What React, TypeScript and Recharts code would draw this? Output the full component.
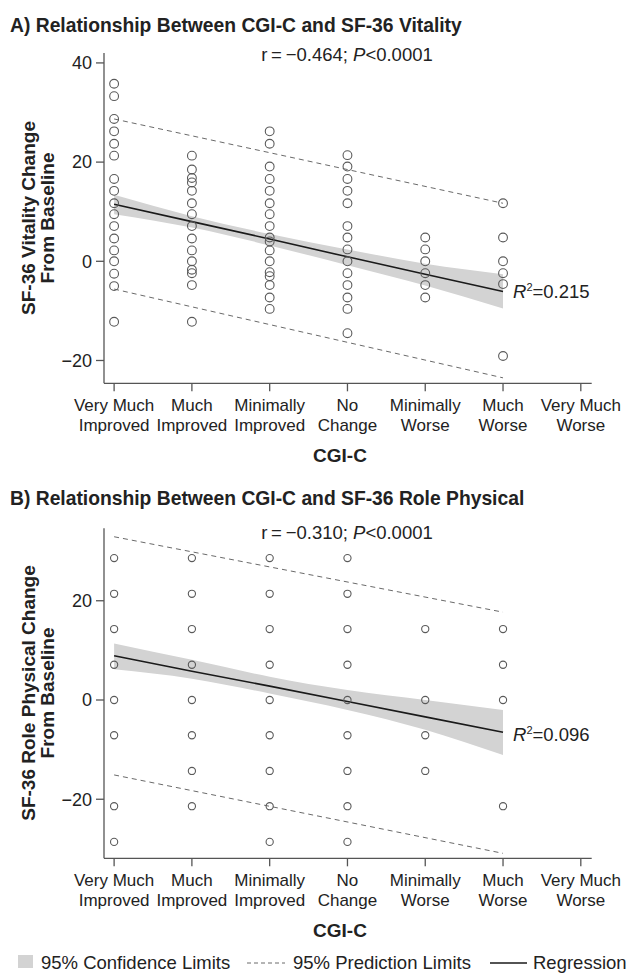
import React from 'react';
import { ComposedChart, Scatter, Line, Area, XAxis, YAxis } from 'recharts';

// ---------- data ----------
const categoryLine1 = ['Very Much', 'Much', 'Minimally', 'No', 'Minimally', 'Much', 'Very Much'];
const categoryLine2 = ['Improved', 'Improved', 'Improved', 'Change', 'Worse', 'Worse', 'Worse'];
const categoryTicks = [1, 2, 3, 4, 5, 6, 7];
const fitX = [1, 2, 3, 4, 5, 6];

// Panel A: SF-36 Vitality change by CGI-C category
const vitalityVeryMuchImproved = [35.8, 33.3, 28.7, 26.2, 23.7, 21.3, 16.6, 14.2, 11.7, 9.5, 7.1, 4.6, 2.2, 0, -2.5, -5.0, -12.2];
const vitalityMuchImproved = [21.3, 18.5, 16.8, 15.9, 14.2, 11.7, 9.5, 7.1, 4.6, 2.2, 0, -1.7, -2.4, -4.8, -12.2];
const vitalityMinimallyImproved = [26.2, 23.7, 19.1, 16.6, 14.2, 11.7, 9.5, 7.1, 4.8, 4.0, 2.2, 0, -2.2, -3.0, -4.8, -7.3, -9.6];
const vitalityNoChange = [21.4, 19.1, 16.6, 14.2, 11.7, 7.1, 4.8, 2.4, 0, -2.4, -4.8, -7.3, -9.6, -14.5];
const vitalityMinimallyWorse = [4.8, 2.4, 0, -2.4, -4.8, -7.3];
const vitalityMuchWorse = [11.7, 4.8, 0, -2.4, -4.6, -19.1];
const vitalityFit = [11.5, 8.0, 4.5, 0.9, -2.6, -6.1];
const vitalityCILow = [9.5, 6.8, 3.2, -0.8, -4.9, -9.5];
const vitalityCIHigh = [13.4, 9.1, 5.5, 2.4, -0.5, -2.6];
const vitalityPredX = [1, 6];
const vitalityPredUpper = [28.7, 11.7];
const vitalityPredLower = [-5.6, -23.5];

// Panel B: SF-36 Role Physical change by CGI-C category
const roleVeryMuchImproved = [28.6, 21.4, 14.3, 7.1, 0, -7.1, -21.4, -28.6];
const roleMuchImproved = [28.6, 21.4, 14.3, 7.1, 0, -7.1, -14.3, -21.4];
const roleMinimallyImproved = [28.6, 21.4, 14.3, 7.1, 0, -7.1, -14.3, -21.4, -28.6];
const roleNoChange = [28.6, 21.4, 14.3, 7.1, 0, -7.1, -14.3, -21.4, -28.6];
const roleMinimallyWorse = [14.3, 0, -7.1, -14.3];
const roleMuchWorse = [14.3, 7.1, 0, -21.4];
const roleFit = [8.9, 5.8, 2.8, -0.3, -3.4, -6.5];
const roleCILow = [6.2, 4.3, 1.3, -2.0, -6.0, -11.1];
const roleCIHigh = [11.4, 8.1, 4.7, 2.0, 0.0, -2.0];
const rolePredX = [1, 6];
const rolePredUpper = [32.9, 17.7];
const rolePredLower = [-15.1, -30.9];

// ---------- helpers ----------
const toPoints = (cols: number[][]) =>
  cols.flatMap((vals, i) => vals.map((v) => ({ x: i + 1, y: v })));
const toBand = (fit: number[], lo: number[], hi: number[]) =>
  fitX.map((x, i) => ({ x, fit: fit[i], ci: [lo[i], hi[i]] }));
const toPred = (xs: number[], up: number[], lo: number[]) =>
  xs.map((x, i) => ({ x, up: up[i], lo: lo[i] }));

const FONT = '"Liberation Sans", Arial, Helvetica, sans-serif';
const TEXT = '#222';
const AXIS = '#555';

const XTick = (props: any) => {
  const { x, y, payload } = props;
  const i = payload.value - 1;
  return (
    <text textAnchor="middle" fontSize={17} fill={TEXT} fontFamily={FONT}>
      <tspan x={x} y={y + 17.7}>{categoryLine1[i]}</tspan>
      <tspan x={x} y={y + 37.7}>{categoryLine2[i]}</tspan>
    </text>
  );
};

type PanelProps = {
  top: number;
  height: number;
  plotTop: number;
  plotBottom: number;
  domain: [number, number];
  yTicks: number[];
  points: { x: number; y: number }[];
  band: any[];
  pred: any[];
  r: number;
};

const Panel = ({ top, height, plotTop, plotBottom, domain, yTicks, points, band, pred, r }: PanelProps) => (
  <div style={{ position: 'absolute', left: 0, top, width: 627, height }}>
    <ComposedChart
      width={627}
      height={height}
      margin={{ top: plotTop, right: 35.3, left: 0, bottom: height - plotBottom - 60 }}
    >
      <XAxis
        type="number"
        dataKey="x"
        domain={[0.87, 7.14]}
        ticks={categoryTicks}
        allowDataOverflow
        height={60}
        tickSize={8}
        tickMargin={2}
        axisLine={{ stroke: AXIS, strokeWidth: 1.3 }}
        tickLine={{ stroke: AXIS, strokeWidth: 1.3 }}
        tick={<XTick />}
        interval={0}
      />
      <YAxis
        type="number"
        dataKey="y"
        domain={domain}
        ticks={yTicks}
        allowDataOverflow
        width={104}
        tickSize={8}
        tickMargin={4}
        axisLine={{ stroke: AXIS, strokeWidth: 1.3 }}
        tickLine={{ stroke: AXIS, strokeWidth: 1.3 }}
        tick={{ fontSize: 18, fill: TEXT, fontFamily: FONT }}
        tickFormatter={(v: number) => (v < 0 ? '\u2212' + Math.abs(v) : String(v))}
      />
      <Area
        data={band}
        dataKey="ci"
        type="monotone"
        stroke="none"
        fill="#d3d3d3"
        fillOpacity={1}
        isAnimationActive={false}
      />
      <Line
        data={pred}
        dataKey="up"
        type="linear"
        stroke="#6a6a6a"
        strokeWidth={1}
        strokeDasharray="5 4"
        dot={false}
        isAnimationActive={false}
      />
      <Line
        data={pred}
        dataKey="lo"
        type="linear"
        stroke="#6a6a6a"
        strokeWidth={1}
        strokeDasharray="5 4"
        dot={false}
        isAnimationActive={false}
      />
      <Scatter
        data={points}
        dataKey="y"
        isAnimationActive={false}
        shape={(p: any) => (
          <circle cx={p.cx} cy={p.cy} r={r} fill="none" stroke="#5a5a5a" strokeWidth={1.1} />
        )}
      />
      <Line
        data={band}
        dataKey="fit"
        type="linear"
        stroke="#1a1a1a"
        strokeWidth={1.6}
        dot={false}
        isAnimationActive={false}
      />
    </ComposedChart>
  </div>
);

export default function App() {
  const ptsA = toPoints([
    vitalityVeryMuchImproved,
    vitalityMuchImproved,
    vitalityMinimallyImproved,
    vitalityNoChange,
    vitalityMinimallyWorse,
    vitalityMuchWorse,
  ]);
  const ptsB = toPoints([
    roleVeryMuchImproved,
    roleMuchImproved,
    roleMinimallyImproved,
    roleNoChange,
    roleMinimallyWorse,
    roleMuchWorse,
  ]);
  const bandA = toBand(vitalityFit, vitalityCILow, vitalityCIHigh);
  const bandB = toBand(roleFit, roleCILow, roleCIHigh);
  const predA = toPred(vitalityPredX, vitalityPredUpper, vitalityPredLower);
  const predB = toPred(rolePredX, rolePredUpper, rolePredLower);

  return (
    <div style={{ position: 'absolute', left: 0, top: 0, width: 627, height: 973, background: '#fff', fontFamily: FONT }}>
      <Panel
        top={0}
        height={470}
        plotTop={53}
        plotBottom={383.3}
        domain={[-24.6, 42]}
        yTicks={[-20, 0, 20, 40]}
        points={ptsA}
        band={bandA}
        pred={predA}
        r={4.4}
      />
      <Panel
        top={470}
        height={503}
        plotTop={58.3}
        plotBottom={388.3}
        domain={[-31.9, 34.6]}
        yTicks={[-20, 0, 20]}
        points={ptsB}
        band={bandB}
        pred={predB}
        r={3.6}
      />
      <svg
        width={627}
        height={973}
        style={{ position: 'absolute', left: 0, top: 0, pointerEvents: 'none' }}
        fontFamily={FONT}
      >
        {/* Panel A texts */}
        <text x={10} y={31.5} fontSize={19.3} fontWeight="bold" fill={TEXT}>
          A) Relationship Between CGI-C and SF-36 Vitality
        </text>
        <text x={347} y={61} fontSize={18.5} fill={TEXT} textAnchor="middle">
          r{'\u2009'}={'\u2009'}{'\u2212'}0.464; <tspan fontStyle="italic">P</tspan>{'<'}0.0001
        </text>
        <text x={513} y={298} fontSize={18.5} fill={TEXT}>
          <tspan fontStyle="italic">R</tspan>
          <tspan fontSize={11} dy={-7}>2</tspan>
          <tspan dy={7}>=0.215</tspan>
        </text>
        <text x={35} y={218} fontSize={19} fontWeight="bold" fill={TEXT} textAnchor="middle" transform="rotate(-90, 35, 218)">
          SF-36 Vitality Change
        </text>
        <text x={54} y={218} fontSize={19} fontWeight="bold" fill={TEXT} textAnchor="middle" transform="rotate(-90, 54, 218)">
          From Baseline
        </text>
        <text x={340} y={462} fontSize={19} fontWeight="bold" fill={TEXT} textAnchor="middle">
          CGI-C
        </text>

        {/* Panel B texts */}
        <text x={10} y={505} fontSize={19.3} fontWeight="bold" fill={TEXT}>
          B) Relationship Between CGI-C and SF-36 Role Physical
        </text>
        <text x={347} y={539} fontSize={18.5} fill={TEXT} textAnchor="middle">
          r{'\u2009'}={'\u2009'}{'\u2212'}0.310; <tspan fontStyle="italic">P</tspan>{'<'}0.0001
        </text>
        <text x={513} y={741} fontSize={18.5} fill={TEXT}>
          <tspan fontStyle="italic">R</tspan>
          <tspan fontSize={11} dy={-7}>2</tspan>
          <tspan dy={7}>=0.096</tspan>
        </text>
        <text x={35} y={693} fontSize={19} fontWeight="bold" fill={TEXT} textAnchor="middle" transform="rotate(-90, 35, 693)">
          SF-36 Role Physical Change
        </text>
        <text x={54} y={693} fontSize={19} fontWeight="bold" fill={TEXT} textAnchor="middle" transform="rotate(-90, 54, 693)">
          From Baseline
        </text>
        <text x={340} y={937} fontSize={19} fontWeight="bold" fill={TEXT} textAnchor="middle">
          CGI-C
        </text>

        {/* Legend */}
        <rect x={18} y={955} width={15} height={13} fill="#d3d3d3" />
        <text x={41} y={968.5} fontSize={18.5} fill={TEXT}>95% Confidence Limits</text>
        <line x1={247} y1={963} x2={285} y2={963} stroke="#6a6a6a" strokeWidth={1} strokeDasharray="4 3" />
        <text x={293} y={968.5} fontSize={18.5} fill={TEXT}>95% Prediction Limits</text>
        <line x1={490} y1={963} x2={527} y2={963} stroke="#1a1a1a" strokeWidth={1.4} />
        <text x={533} y={968.5} fontSize={18.5} fill={TEXT}>Regression</text>
      </svg>
    </div>
  );
}
